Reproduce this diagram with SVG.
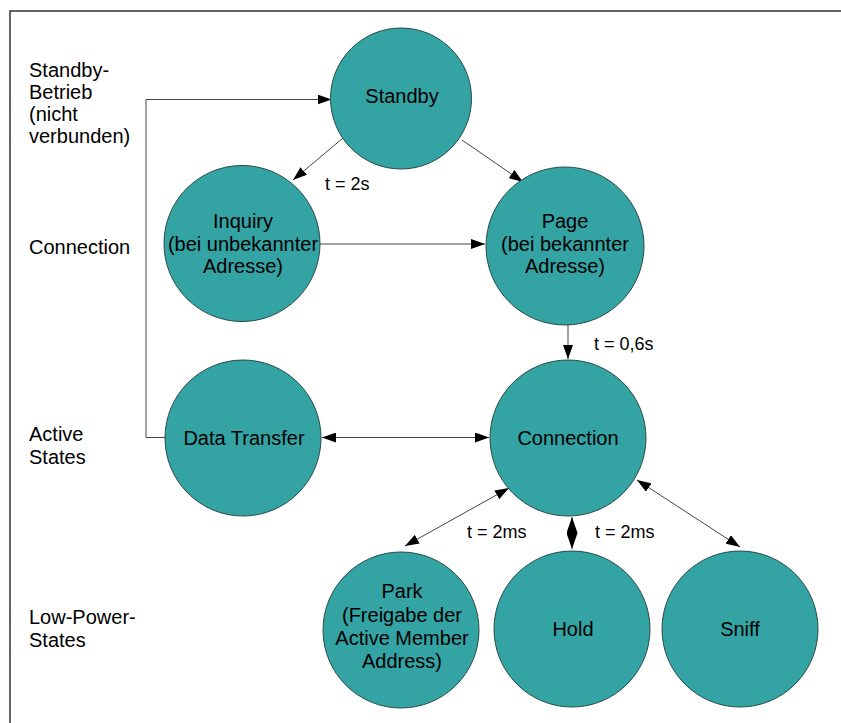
<svg xmlns="http://www.w3.org/2000/svg" width="841" height="723" viewBox="0 0 841 723">
<style>
.node{fill:#33a3a3;stroke:#2a4a4a;stroke-width:1}
.t{font-family:"Liberation Sans",Arial,sans-serif;font-size:20px;fill:#000;text-anchor:middle}
.l{font-family:"Liberation Sans",Arial,sans-serif;font-size:20px;fill:#000}
.e{font-family:"Liberation Sans",Arial,sans-serif;font-size:18px;fill:#000}
.c{fill:none;stroke:#444;stroke-width:1}
</style>
<defs>
<marker id="ah" markerWidth="14" markerHeight="10" refX="14" refY="5" orient="auto-start-reverse" markerUnits="userSpaceOnUse">
<path d="M0,0 L14,5 L0,10 z" fill="#000"/>
</marker>
<marker id="ahd" markerWidth="16" markerHeight="11" refX="16" refY="5.5" orient="auto-start-reverse" markerUnits="userSpaceOnUse">
<path d="M0,0 L16,5.5 L0,11 z" fill="#000"/>
</marker>
</defs>
<rect x="0" y="0" width="841" height="723" fill="#fff"/>
<g id="frame">
<path d="M10,723 L10,11 L841,11" fill="none" stroke="#333" stroke-width="1.5"/>
</g>
<g id="lanes">
<text class="l" x="29" y="77">Standby-</text>
<text class="l" x="29" y="99">Betrieb</text>
<text class="l" x="29" y="121">(nicht</text>
<text class="l" x="29" y="143">verbunden)</text>
<text class="l" x="29" y="254">Connection</text>
<text class="l" x="29" y="441">Active</text>
<text class="l" x="29" y="464">States</text>
<text class="l" x="29" y="624">Low-Power-</text>
<text class="l" x="29" y="647">States</text>
</g>
<g id="connectors">
<path class="c" d="M165,437.5 L146,437.5 L146,99.5 L331.5,99.5" marker-end="url(#ah)"/>
<path class="c" d="M343,138 L293,180" marker-end="url(#ah)"/>
<path class="c" d="M462,140 L523,182" marker-end="url(#ah)"/>
<path class="c" d="M320,244 L485,244" marker-end="url(#ah)"/>
<path class="c" d="M568,325 L568,359" marker-end="url(#ah)"/>
<path class="c" d="M322,437.5 L489,437.5" marker-start="url(#ah)" marker-end="url(#ah)"/>
<path class="c" d="M509,488 L405,546" marker-start="url(#ah)" marker-end="url(#ah)"/>
<path class="c" d="M572,517 L572,549" marker-start="url(#ahd)" marker-end="url(#ahd)"/>
<path class="c" d="M637,480 L740,547" marker-start="url(#ah)" marker-end="url(#ah)"/>
<text class="e" x="325" y="190">t = 2s</text>
<text class="e" x="594" y="350">t = 0,6s</text>
<text class="e" x="467" y="538">t = 2ms</text>
<text class="e" x="595" y="538">t = 2ms</text>
</g>
<g id="standby">
<circle class="node" cx="401" cy="98.5" r="70.5"/>
<text class="t" x="402" y="103">Standby</text>
</g>
<g id="inquiry">
<circle class="node" cx="242" cy="243.5" r="78"/>
<text class="t" x="243" y="228">Inquiry</text>
<text class="t" x="243" y="250.5">(bei unbekannter</text>
<text class="t" x="243" y="273">Adresse)</text>
</g>
<g id="page">
<circle class="node" cx="565" cy="246" r="79"/>
<text class="t" x="565" y="228">Page</text>
<text class="t" x="565" y="250.5">(bei bekannter</text>
<text class="t" x="565" y="273">Adresse)</text>
</g>
<g id="datatransfer">
<circle class="node" cx="243" cy="438" r="78"/>
<text class="t" x="244" y="445">Data Transfer</text>
</g>
<g id="connection">
<circle class="node" cx="568" cy="438" r="78"/>
<text class="t" x="568" y="445">Connection</text>
</g>
<g id="park">
<circle class="node" cx="401" cy="630" r="78"/>
<text class="t" x="402" y="598">Park</text>
<text class="t" x="402" y="621.5">(Freigabe der</text>
<text class="t" x="402" y="645">Active Member</text>
<text class="t" x="402" y="668">Address)</text>
</g>
<g id="hold">
<circle class="node" cx="572" cy="629" r="78"/>
<text class="t" x="573" y="636">Hold</text>
</g>
<g id="sniff">
<circle class="node" cx="740" cy="629" r="78"/>
<text class="t" x="740" y="636">Sniff</text>
</g>
</svg>
